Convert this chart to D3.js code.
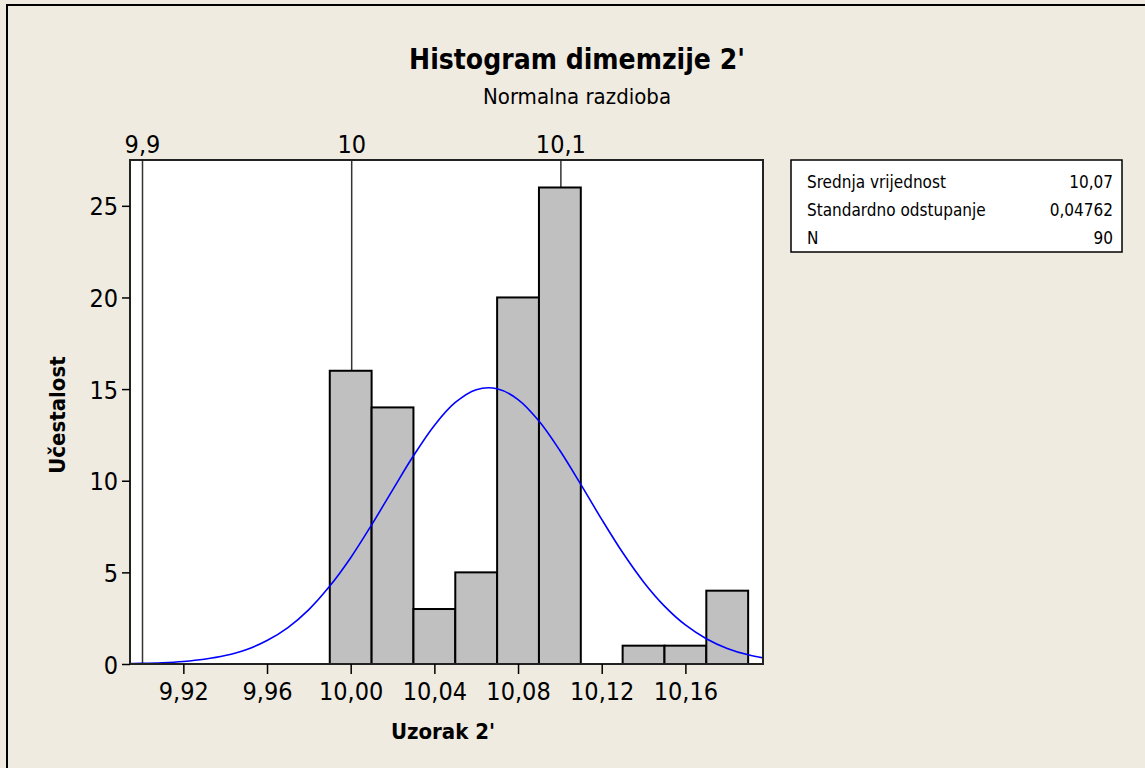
<!DOCTYPE html>
<html>
<head>
<meta charset="utf-8">
<script src="https://cdn.jsdelivr.net/npm/d3@7"></script>
<style>
body { margin: 0; background: #EFEBE1; }
svg { display: block; font-family: "DejaVu Sans Condensed", "DejaVu Sans", sans-serif; }
</style>
</head>
<body>
<svg id="chart" width="1145" height="768"></svg>
<script>
// histogram bins (lower edge, upper edge, count)
var binStart = [9.99, 10.01, 10.03, 10.05, 10.07, 10.09, 10.11, 10.13, 10.15, 10.17];
var binEnd   = [10.01, 10.03, 10.05, 10.07, 10.09, 10.11, 10.13, 10.15, 10.17, 10.19];
var counts   = [16, 14, 3, 5, 20, 26, 0, 1, 1, 4];

// fitted normal curve
var curveX = [9.89, 9.90, 9.91, 9.92, 9.93, 9.94, 9.95, 9.96, 9.97, 9.98, 9.99, 10.00, 10.01, 10.02, 10.03, 10.04, 10.05,
              10.06, 10.07, 10.08, 10.09, 10.10, 10.11, 10.12, 10.13, 10.14, 10.15, 10.16, 10.17, 10.18, 10.19, 10.20];
var curveY = [0.02, 0.035, 0.07, 0.14, 0.26, 0.46, 0.78, 1.28, 1.99, 2.97, 4.25, 5.8, 7.59, 9.49, 11.36, 13.02, 14.27,
              14.97, 15.02, 14.43, 13.26, 11.65, 9.8, 7.89, 6.08, 4.48, 3.16, 2.13, 1.38, 0.85, 0.5, 0.28];

// reference lines on the top axis
var refLines  = [9.9, 10.0, 10.1];
var refLabels = ["9,9", "10", "10,1"];

var xTicks = [9.92, 9.96, 10.00, 10.04, 10.08, 10.12, 10.16];
var yTicks = [0, 5, 10, 15, 20, 25];

var statNames  = ["Srednja vrijednost", "Standardno odstupanje", "N"];
var statValues = ["10,07", "0,04762", "90"];

var svg = d3.select("#chart");
var pLeft = 130, pRight = 763, pTop = 160, pBottom = 664;

var x = d3.scaleLinear().domain([9.8945, 10.1971]).range([pLeft, pRight]);
var y = d3.scaleLinear().domain([0, 27.5]).range([pBottom, pTop]);
var comma = function(d, n){ return d3.format("." + n + "f")(d).replace(".", ","); };

var bins = counts.map(function(c, i){ return {x0: binStart[i], x1: binEnd[i], n: c}; })
  .filter(function(b){ return b.n > 0; });

// outer border (runs off the page right and bottom)
svg.append("rect").attr("x", 7).attr("y", 5).attr("width", 1200).attr("height", 800)
  .attr("fill", "#EFEBE1").attr("stroke", "#000").attr("stroke-width", 2);

// titles
svg.append("text").attr("x", 577).attr("y", 69).attr("text-anchor", "middle")
  .attr("font-size", 28).attr("font-weight", "bold").text("Histogram dimemzije 2'");
svg.append("text").attr("x", 577).attr("y", 104).attr("text-anchor", "middle")
  .attr("font-size", 22).text("Normalna razdioba");

// plot area
svg.append("rect").attr("x", pLeft).attr("y", pTop).attr("width", pRight - pLeft).attr("height", pBottom - pTop)
  .attr("fill", "#fff");

svg.append("clipPath").attr("id", "clip").append("rect")
  .attr("x", pLeft).attr("y", pTop).attr("width", pRight - pLeft).attr("height", pBottom - pTop);

// reference lines + labels on top
svg.append("g").selectAll("line").data(refLines).join("line")
  .attr("x1", function(d){ return x(d) + 1; }).attr("x2", function(d){ return x(d) + 1; })
  .attr("y1", pTop).attr("y2", pBottom)
  .attr("stroke", "#333").attr("stroke-width", 1.5);
svg.append("g").selectAll("text").data(refLines).join("text")
  .attr("x", function(d){ return x(d) + 1; }).attr("y", pTop - 7)
  .attr("text-anchor", "middle").attr("font-size", 25)
  .text(function(d, i){ return refLabels[i]; });

// bars
svg.append("g").selectAll("rect").data(bins).join("rect")
  .attr("x", function(d){ return x(d.x0); })
  .attr("y", function(d){ return y(d.n); })
  .attr("width", function(d){ return x(d.x1) - x(d.x0); })
  .attr("height", function(d){ return pBottom - y(d.n); })
  .attr("fill", "#C0C0C0").attr("stroke", "#000").attr("stroke-width", 2);

// normal curve
var line = d3.line()
  .x(function(d, i){ return x(curveX[i]); })
  .y(function(d){ return y(d); })
  .curve(d3.curveCatmullRom);
svg.append("path").datum(curveY).attr("d", line).attr("clip-path", "url(#clip)")
  .attr("fill", "none").attr("stroke", "#0000FF").attr("stroke-width", 1.6);

// frame
svg.append("rect").attr("x", pLeft).attr("y", pTop).attr("width", pRight - pLeft).attr("height", pBottom - pTop)
  .attr("fill", "none").attr("stroke", "#222").attr("stroke-width", 2);

// axes
var xAxis = svg.append("g").attr("transform", "translate(0," + pBottom + ")")
  .call(d3.axisBottom(x).tickValues(xTicks).tickSize(10).tickPadding(8).tickFormat(function(d){ return comma(d, 2); }));
var yAxis = svg.append("g").attr("transform", "translate(" + pLeft + ",0)")
  .call(d3.axisLeft(y).tickValues(yTicks).tickSize(8).tickPadding(4));
[xAxis, yAxis].forEach(function(g){
  g.select(".domain").remove();
  g.selectAll(".tick line").attr("stroke", "#000").attr("stroke-width", 1.5);
  g.selectAll(".tick text").attr("font-size", 25).attr("fill", "#000")
    .attr("font-family", "\"DejaVu Sans Condensed\", \"DejaVu Sans\", sans-serif");
});
yAxis.selectAll(".tick text").attr("dy", "0.36em");

svg.append("text").attr("x", 443).attr("y", 739).attr("text-anchor", "middle")
  .attr("font-size", 22).attr("font-weight", "bold").text("Uzorak 2'");
svg.append("text").attr("transform", "translate(65,415) rotate(-90)").attr("text-anchor", "middle")
  .attr("font-size", 22).attr("font-weight", "bold").text("Učestalost");

// stats box
var box = svg.append("g");
box.append("rect").attr("x", 791).attr("y", 160).attr("width", 331).attr("height", 92)
  .attr("fill", "#fff").attr("stroke", "#000").attr("stroke-width", 1.5);
box.selectAll("text.name").data(statNames).join("text").attr("class", "name")
  .attr("x", 807).attr("y", function(d, i){ return 188 + i * 28; })
  .attr("font-size", 17).text(function(d){ return d; });
box.selectAll("text.val").data(statValues).join("text").attr("class", "val")
  .attr("x", 1113).attr("y", function(d, i){ return 188 + i * 28; })
  .attr("text-anchor", "end").attr("font-size", 17).text(function(d){ return d; });
</script>
</body>
</html>
